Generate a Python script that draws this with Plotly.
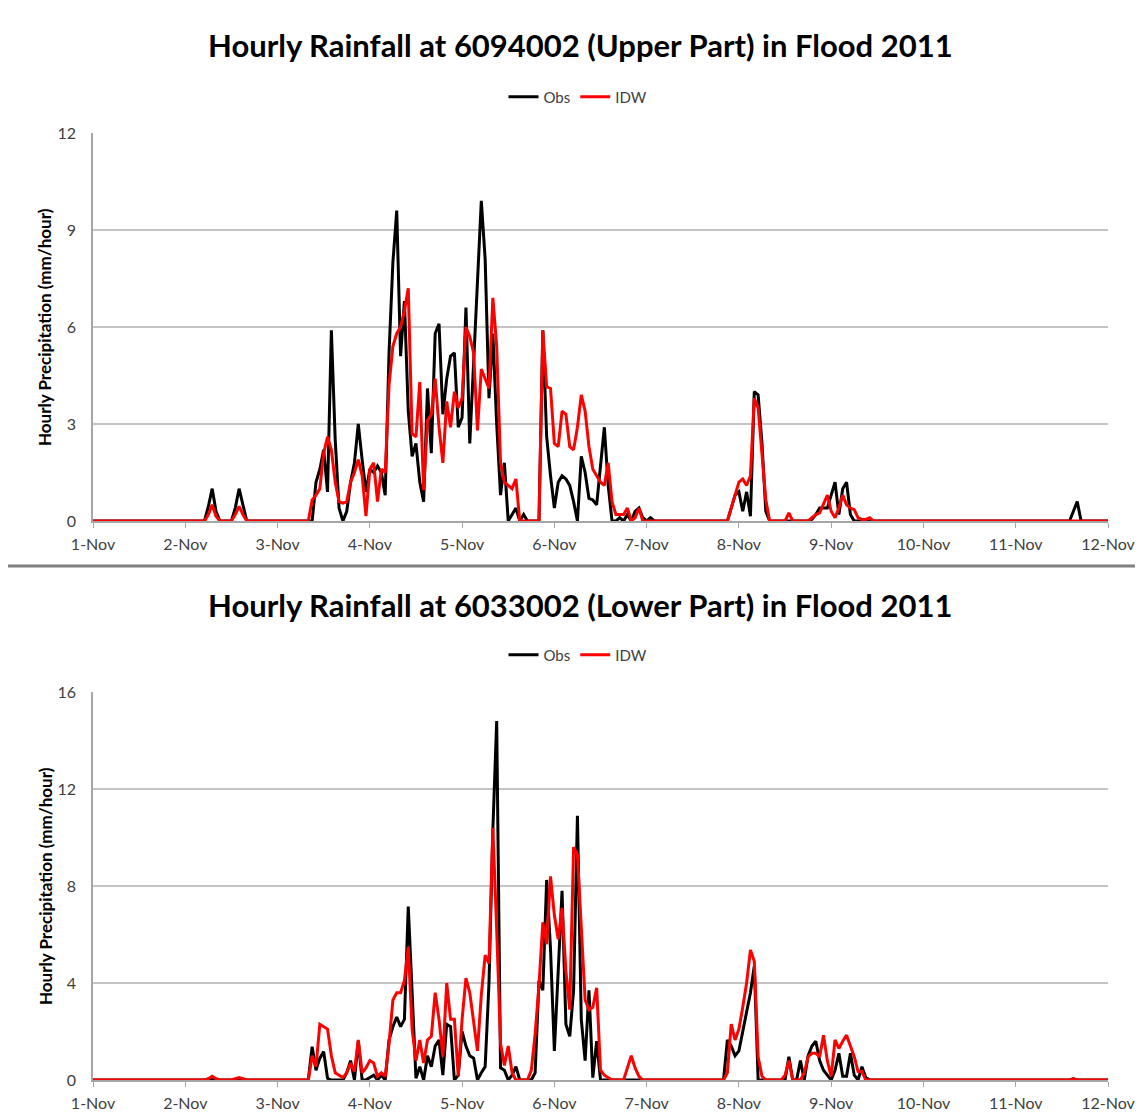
import plotly.graph_objects as go

# ---------------- data (hourly values, one row per day, starting 1-Nov 00:00) ----------------
day_labels = ["1-Nov", "2-Nov", "3-Nov", "4-Nov", "5-Nov", "6-Nov", "7-Nov",
              "8-Nov", "9-Nov", "10-Nov", "11-Nov", "12-Nov"]

upper_obs = (
    [0]*24 +
    [0,0,0,0,0,0,0.45,1.0,0.3,0,0,0,0,0.4,1.0,0.5,0,0,0,0,0,0,0,0] +
    [0,0,0,0,0,0,0,0,0,0,1.2,1.6,2.2,0.9,5.9,2.5,0.4,0,0.3,1.2,1.8,3.0,1.9,0.9] +
    [1.6,1.5,1.7,1.5,0.8,5.2,8.0,9.6,5.1,6.8,3.4,2.0,2.4,1.2,0.6,4.1,2.1,5.8,6.1,3.3,4.4,5.1,5.2,2.9] +
    [3.2,6.6,2.4,4.9,7.6,9.9,8.1,3.8,5.8,3.0,0.8,1.8,0,0.2,0.4,0,0.2,0,0,0,0,5.9,2.6,1.4] +
    [0.4,1.2,1.4,1.3,1.1,0.6,0,2.0,1.5,0.7,0.65,0.5,1.8,2.9,1.1,0,0,0.1,0,0.2,0,0.3,0.4,0.1] +
    [0,0.1,0,0,0,0,0,0,0,0,0,0,0,0,0,0,0,0,0,0,0,0,0.4,0.8] +
    [0.9,0.3,0.9,0.15,4.0,3.9,2.4,0.3,0,0,0,0,0,0,0,0,0,0,0,0.05,0.2,0.4,0.4,0.4] +
    [0.8,1.2,0.2,1.0,1.2,0.2,0,0,0,0,0,0,0,0,0,0,0,0,0,0,0,0,0,0] +
    [0]*24 +
    [0,0,0,0,0,0,0,0,0,0,0,0,0,0,0,0.3,0.6,0,0,0,0,0,0,0] +
    [0]
)

upper_idw = (
    [0]*24 +
    [0,0,0,0,0,0,0.2,0.5,0.15,0,0,0,0,0.2,0.45,0.2,0,0,0,0,0,0,0,0] +
    [0,0,0,0,0,0,0,0,0,0.65,0.8,1.0,2.1,2.6,2.2,1.2,0.6,0.55,0.6,1.2,1.5,1.9,1.4,0.15] +
    [1.6,1.8,0.6,1.6,1.5,4.2,5.4,5.8,6.0,6.5,7.2,2.7,2.6,4.3,0.95,3.1,3.3,4.4,2.9,1.8,3.7,2.9,4.0,3.5] +
    [3.8,6.0,5.7,5.2,2.8,4.7,4.4,4.1,6.9,5.4,1.8,1.2,1.1,1.0,1.3,0,0,0,0,0,0,5.9,4.15,4.1] +
    [2.4,2.3,3.4,3.3,2.3,2.2,2.9,3.9,3.4,2.3,1.6,1.4,1.2,1.1,1.8,0.6,0.2,0.2,0.2,0.4,0,0.1,0.4,0] +
    [0,0,0,0,0,0,0,0,0,0,0,0,0,0,0,0,0,0,0,0,0,0,0.4,0.8] +
    [1.2,1.3,1.1,1.4,3.8,3.5,2.0,0.65,0,0,0,0,0,0.25,0,0,0,0,0,0.1,0.2,0.25,0.5,0.8] +
    [0.3,0.1,0.4,0.8,0.5,0.4,0.35,0.1,0.05,0.05,0.1,0,0,0,0,0,0,0,0,0,0,0,0,0] +
    [0]*24 +
    [0]*24 +
    [0]
)

lower_obs = (
    [0]*24 +
    [0,0,0,0,0,0,0,0.1,0,0,0,0,0,0,0.05,0,0,0,0,0,0,0,0,0] +
    [0,0,0,0,0,0,0,0,0,1.37,0.4,0.9,1.17,0.07,0,0,0,0,0.3,0.8,0,1.6,0,0] +
    [0.1,0.2,0,0.2,0,1.65,2.2,2.6,2.2,2.5,7.15,3.4,0.07,0.55,0,1.0,0.55,1.4,1.65,0.2,2.3,2.2,0,0.2] +
    [2.0,1.4,1.0,0.9,0,0.3,0.55,4.0,10.3,14.8,0.5,0.4,0,0.2,0.55,0,0,0,0,0.3,4.1,3.7,8.25,5.4] +
    [1.2,4.5,7.8,2.3,1.8,3.7,10.9,2.5,0.8,3.7,0.1,1.6,0,0,0,0,0,0,0,0,0,0,0,0] +
    [0,0,0,0,0,0,0,0,0,0,0,0,0,0,0,0,0,0,0,0,0,1.65,1.4,1.0] +
    [1.2,2.0,2.75,3.6,4.7,0,0,0,0,0,0,0,0,0.96,0,0,0.8,0,1.0,1.4,1.6,0.8,0.4,0.2] +
    [0,0.4,1.1,0.15,0.15,1.1,0.2,0,0.55,0.1,0,0,0,0,0,0,0,0,0,0,0,0,0,0] +
    [0]*24 +
    [0,0,0,0,0,0,0,0,0,0,0,0,0,0,0,0.05,0,0,0,0,0,0,0,0] +
    [0]
)

lower_idw = (
    [0]*24 +
    [0,0,0,0,0,0,0.05,0.15,0.05,0,0,0,0,0.05,0.1,0.05,0,0,0,0,0,0,0,0] +
    [0,0,0,0,0,0,0,0,0,1.0,0.55,2.3,2.2,2.1,1.0,0.3,0.2,0.1,0.3,0.7,0.35,1.65,0.3,0.5] +
    [0.8,0.7,0.15,0.3,0.15,1.5,3.3,3.6,3.6,4.1,5.5,2.1,0.8,1.65,0.7,1.65,1.8,3.6,2.5,0.96,4.0,2.5,2.5,0.15] +
    [2.5,4.2,3.6,2.4,1.2,3.5,5.15,4.8,10.4,6.2,1.5,0.6,1.4,0.3,0,0,0,0,0.4,1.9,3.9,6.5,5.6,8.4] +
    [6.8,5.8,7.1,4.5,2.9,9.6,9.3,6.5,3.3,2.9,3.0,3.8,0.4,0.2,0.1,0,0,0,0,0.5,1.0,0.5,0.15,0] +
    [0,0,0,0,0,0,0,0,0,0,0,0,0,0,0,0,0,0,0,0,0,0.3,2.3,1.65] +
    [2.1,3.0,4.0,5.36,4.9,0.96,0.15,0,0,0,0,0,0.2,0.8,0,0,0,0.3,0.96,1.1,1.1,0.96,1.85,0.8] +
    [0.15,1.65,1.3,1.6,1.85,1.4,0.96,0.35,0.35,0,0,0,0,0,0,0,0,0,0,0,0,0,0,0] +
    [0]*24 +
    [0,0,0,0,0,0,0,0,0,0,0,0,0,0,0,0.05,0,0,0,0,0,0,0,0] +
    [0]
)

titles = ["Hourly Rainfall at 6094002 (Upper Part) in Flood 2011",
          "Hourly Rainfall at 6033002 (Lower Part) in Flood 2011"]
y_title = "Hourly Precipitation (mm/hour)"
series_names = ["Obs", "IDW"]
upper_yticks = [0, 3, 6, 9, 12]
lower_yticks = [0, 4, 8, 12, 16]

# ---------------- figure ----------------
W, H = 1143, 1114
OFF = 8                      # page body margin
ML, MR, MT, MB = 85, 43, 20, 20
PW = W - ML - MR
PH = H - MT - MB

def py(pix):                 # screenshot pixel row -> paper fraction
    return 1 - ((pix - OFF) - MT) / PH

def px(pix):                 # screenshot pixel column -> paper fraction
    return ((pix - OFF) - ML) / PW

hours = list(range(len(upper_obs)))
tickvals = [24 * i for i in range(len(day_labels))]

FONT = "Lato, 'Open Sans', sans-serif"
BLACK = "#000000"
RED = "#ff0000"
LW = 3

fig = go.Figure()
fig.add_trace(go.Scatter(x=hours, y=upper_obs, name=series_names[0], mode="lines",
                         line=dict(color=BLACK, width=LW), xaxis="x", yaxis="y",
                         legend="legend"))
fig.add_trace(go.Scatter(x=hours, y=upper_idw, name=series_names[1], mode="lines",
                         line=dict(color=RED, width=LW), xaxis="x", yaxis="y",
                         legend="legend"))
fig.add_trace(go.Scatter(x=hours, y=lower_obs, name=series_names[0], mode="lines",
                         line=dict(color=BLACK, width=LW), xaxis="x2", yaxis="y2",
                         legend="legend2"))
fig.add_trace(go.Scatter(x=hours, y=lower_idw, name=series_names[1], mode="lines",
                         line=dict(color=RED, width=LW), xaxis="x2", yaxis="y2",
                         legend="legend2"))

xcommon = dict(range=[0, 264], tickvals=tickvals, ticktext=day_labels,
               showgrid=False, zeroline=False, showline=True, linecolor="#a6a6a6",
               linewidth=1.5, ticks="outside", ticklen=5, tickcolor="#a6a6a6",
               automargin=False, ticklabelstandoff=3,
               tickfont=dict(family=FONT, size=16, color="#404040"), domain=[0, 1])
ycommon = dict(showgrid=True, gridcolor="#c4c4c4", gridwidth=1.5, zeroline=False,
               showline=True, linecolor="#a6a6a6", linewidth=1.5, ticks="",
               ticklabelstandoff=12, automargin=False,
               tickfont=dict(family=FONT, size=16, color="#404040"))

fig.update_layout(
    width=W, height=H,
    margin=dict(l=ML, r=MR, t=MT, b=MB, autoexpand=False),
    paper_bgcolor="white", plot_bgcolor="white",
    showlegend=True,
    xaxis=dict(**xcommon, anchor="y"),
    yaxis=dict(**ycommon, range=[0, 12], tickvals=upper_yticks,
               domain=[py(521), py(133)], anchor="x"),
    xaxis2=dict(**xcommon, anchor="y2"),
    yaxis2=dict(**ycommon, range=[0, 16], tickvals=lower_yticks,
                domain=[py(1080), py(692)], anchor="x2"),
    legend=dict(orientation="h", x=px(578), xanchor="center", y=py(97), yanchor="middle",
                font=dict(family=FONT, size=15, color="#404040"), itemwidth=30,
                bgcolor="rgba(0,0,0,0)"),
    legend2=dict(orientation="h", x=px(578), xanchor="center", y=py(655), yanchor="middle",
                 font=dict(family=FONT, size=15, color="#404040"), itemwidth=30,
                 bgcolor="rgba(0,0,0,0)"),
)

annotations = [
    dict(text="<b>" + titles[0] + "</b>", x=px(580), y=py(45), xref="paper", yref="paper",
         showarrow=False, font=dict(family=FONT, size=31, color="#000000"),
         xanchor="center", yanchor="middle"),
    dict(text="<b>" + titles[1] + "</b>", x=px(580), y=py(605), xref="paper", yref="paper",
         showarrow=False, font=dict(family=FONT, size=31, color="#000000"),
         xanchor="center", yanchor="middle"),
    dict(text="<b>" + y_title + "</b>", x=px(45), y=py(327), xref="paper", yref="paper",
         showarrow=False, textangle=-90, font=dict(family=FONT, size=17, color="#000000"),
         xanchor="center", yanchor="middle"),
    dict(text="<b>" + y_title + "</b>", x=px(45), y=py(886), xref="paper", yref="paper",
         showarrow=False, textangle=-90, font=dict(family=FONT, size=17, color="#000000"),
         xanchor="center", yanchor="middle"),
]
fig.update_layout(annotations=annotations)

fig.add_shape(type="line", xref="paper", yref="paper",
              x0=px(0), x1=px(W + OFF), y0=py(566), y1=py(566),
              line=dict(color="#7f7f7f", width=3))

fig.write_html("out.html")
